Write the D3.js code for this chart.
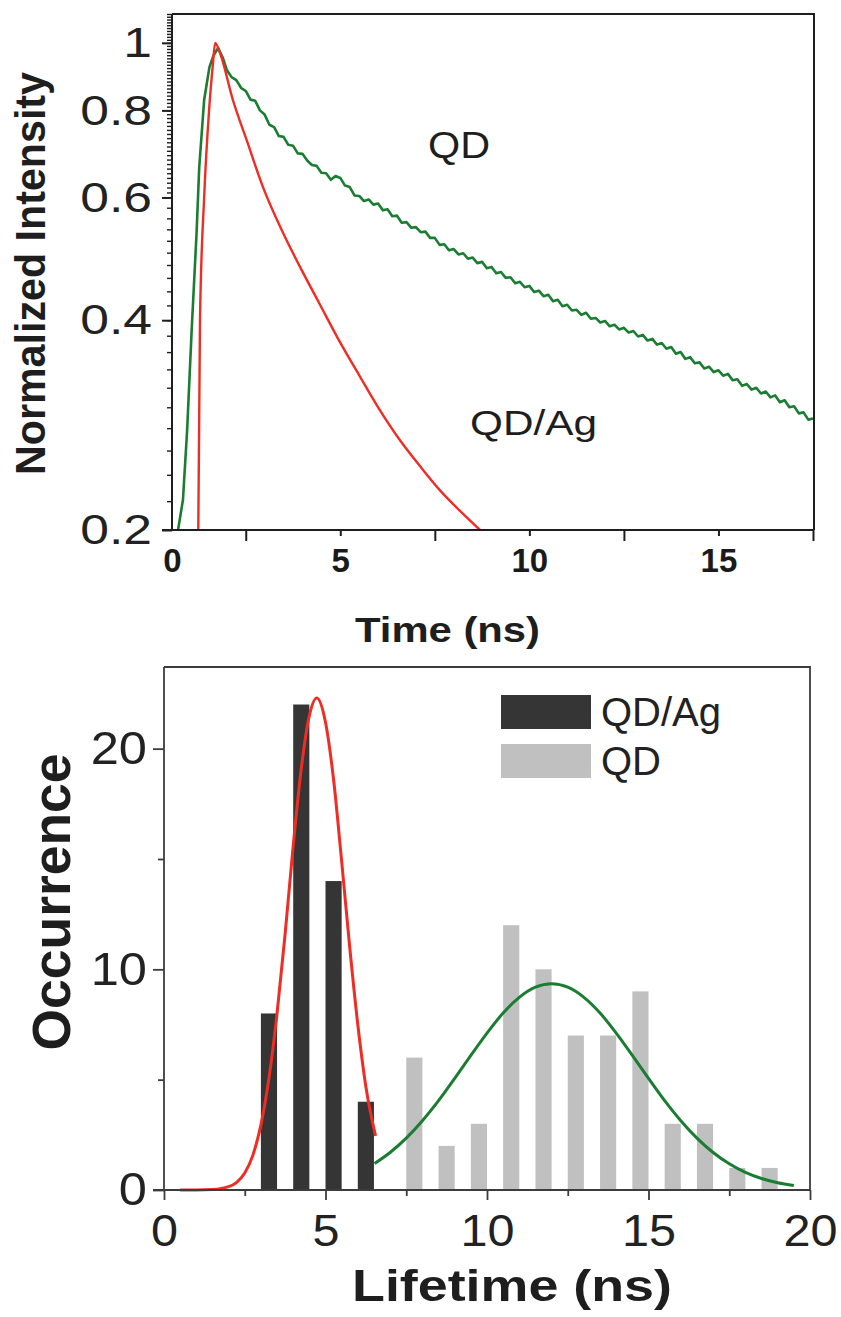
<!DOCTYPE html>
<html>
<head>
<meta charset="utf-8">
<script src="https://cdn.jsdelivr.net/npm/d3@7"></script>
<style>
  body { margin: 0; background: #fff; }
  svg { display: block; font-family: "Liberation Sans", Arial, sans-serif; }
</style>
</head>
<body>
<svg id="drawing_region"></svg>
<script>
// ---- top panel: PL decay, [time (ns), normalized intensity]
const decayQD = [
  [0.71,0.2],[0.84,0.221],[0.95,0.278],[1.07,0.387],[1.2,0.534],[1.27,0.663],[1.4,0.828],
  [1.54,0.923],[1.65,0.96],[1.77,0.983],[1.9,0.95],
  [2.0,0.914],[2.125,0.893],[2.25,0.884],[2.375,0.862],[2.5,0.853],[2.625,0.829],[2.75,0.826],
  [2.875,0.800],[3.0,0.789],[3.125,0.763],[3.25,0.757],[3.375,0.735],[3.5,0.733],[3.625,0.714],
  [3.75,0.712],[3.875,0.694],[4.0,0.693],[4.125,0.678],[4.25,0.668],[4.375,0.666],[4.5,0.651],
  [4.625,0.650],[4.75,0.636],[4.875,0.644],[5.0,0.640],[5.125,0.624],[5.25,0.621],[5.375,0.604],
  [5.5,0.603],[5.625,0.593],[5.75,0.596],[5.875,0.586],[6.0,0.588],[6.125,0.575],[6.25,0.577],
  [6.375,0.564],[6.5,0.565],[6.625,0.552],[6.75,0.553],[6.875,0.543],[7.0,0.544],[7.125,0.535],
  [7.25,0.536],[7.375,0.525],[7.5,0.525],[7.625,0.513],[7.75,0.514],[7.875,0.504],[8.0,0.506],
  [8.125,0.497],[8.25,0.499],[8.375,0.490],[8.5,0.492],[8.625,0.483],[8.75,0.485],[8.875,0.475],
  [9.0,0.477],[9.125,0.467],[9.25,0.469],[9.375,0.460],[9.5,0.461],[9.625,0.452],[9.75,0.454],
  [9.875,0.446],[10.0,0.448],[10.125,0.439],[10.25,0.441],[10.375,0.433],[10.5,0.435],
  [10.625,0.426],[10.75,0.428],[10.875,0.419],[11.0,0.421],[11.125,0.413],[11.25,0.414],
  [11.375,0.407],[11.5,0.410],[11.625,0.402],[11.75,0.403],[11.875,0.397],[12.0,0.399],
  [12.125,0.392],[12.25,0.394],[12.375,0.388],[12.5,0.390],[12.625,0.384],[12.75,0.386],
  [12.875,0.379],[13.0,0.381],[13.125,0.374],[13.25,0.376],[13.375,0.369],[13.5,0.371],
  [13.625,0.364],[13.75,0.366],[13.875,0.358],[14.0,0.360],[14.125,0.352],[14.25,0.354],
  [14.375,0.347],[14.5,0.348],[14.625,0.341],[14.75,0.343],[14.875,0.337],[15.0,0.339],
  [15.125,0.333],[15.25,0.335],[15.375,0.328],[15.5,0.329],[15.625,0.322],[15.75,0.324],
  [15.875,0.318],[16.0,0.320],[16.125,0.314],[16.25,0.316],[16.375,0.310],[16.5,0.312],
  [16.625,0.305],[16.75,0.307],[16.875,0.300],[17.0,0.301],[17.125,0.294],[17.25,0.295],
  [17.375,0.288],[17.5,0.289]
];
const decayQDAg = [
  [1.245,0.2],[1.29,0.4],[1.40,0.6],[1.53,0.8],[1.63,0.93],[1.69,1.0],[1.82,0.967],
  [2.16,0.828],[2.525,0.725],[2.956,0.621],[3.485,0.534],[3.935,0.477],[4.464,0.421],
  [4.992,0.372],[5.521,0.332],[6.05,0.297],[6.579,0.269],[7.108,0.247],[7.637,0.228],
  [8.166,0.213],[8.694,0.2]
];
const decayYTicks = [0.2, 0.4, 0.6, 0.8, 1];
const decayXLabelTicks = [0.55, 5, 10, 15];
const decayXLongTicks = [2.5, 7.5, 12.5, 17.5];

// ---- bottom panel: lifetime histogram
const qdAgBins = [3, 4, 5, 6];
const qdAgCounts = [8, 22, 14, 4];
const qdBins = [7, 8, 9, 10, 11, 12, 13, 14, 15, 16, 17, 18];
const qdCounts = [6, 2, 3, 12, 10, 7, 7, 9, 3, 3, 1, 1];
const fitQDAg = [
  [0.5,0],[1.0,0.0],[1.5,0.02],[2.0,0.15],[2.25,0.35],[2.5,0.77],[2.75,1.57],[3.0,2.95],
  [3.25,5.07],[3.5,8.0],[3.75,11.6],[4.0,15.6],[4.25,19.1],[4.5,21.5],[4.73,22.3],
  [5.0,21.2],[5.25,18.6],[5.5,14.9],[5.75,11.0],[6.0,7.5],[6.25,4.68],[6.55,2.45]
];
const fitQD = [
  [6.52,1.2],[7.0,1.70],[7.5,2.35],[8.0,3.14],[8.5,4.05],[9.0,5.06],[9.5,6.10],[10.0,7.11],
  [10.5,8.02],[11.0,8.73],[11.5,9.19],[12.0,9.35],[12.5,9.19],[13.0,8.73],[13.5,8.02],
  [14.0,7.11],[14.5,6.10],[15.0,5.06],[15.5,4.05],[16.0,3.14],[16.5,2.35],[17.0,1.70],
  [17.5,1.19],[18.0,0.80],[18.5,0.52],[19.0,0.33],[19.5,0.20]
];
const histXTicks = [0, 5, 10, 15, 20];
const histYTicks = [0, 10, 20];

const GREEN = '#1a7d32', RED = '#ee2d24', AXIS = '#1e1e1e';
const FONT = '"Liberation Sans", Arial, sans-serif';

// widen glyphs a little, the original lettering is broad
function stretch(sel, k) {
    sel.each(function() {
        const w = this.getComputedTextLength();
        d3.select(this).attr('textLength', w * k).attr('lengthAdjust', 'spacingAndGlyphs');
    });
}

const svg = d3.select('#drawing_region')
    .attr('width', 841)
    .attr('height', 1317);

svg.append('rect').attr('width', 841).attr('height', 1317).attr('fill', '#fff');

// ================= top panel =================
const xT = d3.scaleLinear().domain([0.55, 17.5]).range([172, 813]);
const yT = d3.scaleLog().domain([0.2, 1.1]).range([530, 14]);

svg.append('clipPath').attr('id', 'clipTop')
  .append('rect').attr('x', 172).attr('y', 14).attr('width', 642).attr('height', 516);

const lineT = d3.line().x(d => xT(d[0])).y(d => yT(d[1]));
const curvesT = svg.append('g').attr('clip-path', 'url(#clipTop)');
curvesT.append('path').datum(decayQD)
    .attr('d', lineT).attr('fill', 'none')
    .attr('stroke', GREEN).attr('stroke-width', 2.6).attr('stroke-linejoin', 'round');
curvesT.append('path').datum(decayQDAg)
    .attr('d', lineT.curve(d3.curveMonotoneX)).attr('fill', 'none')
    .attr('stroke', RED).attr('stroke-width', 2.4);

// frame
svg.append('path')
    .attr('d', `M172,14H814V530`)
    .attr('fill', 'none').attr('stroke', AXIS).attr('stroke-width', 2);

// y minor ticks
const minorY = d3.range(0.22, 0.6, 0.02).concat(d3.range(0.61, 1.1, 0.01));
svg.append('g').attr('transform', 'translate(172,0)')
    .call(d3.axisLeft(yT).tickValues(minorY).tickSize(5).tickFormat(''))
    .call(g => g.select('.domain').remove())
    .selectAll('line').attr('stroke', AXIS).attr('stroke-width', 1.4);

svg.append('g').attr('transform', 'translate(172,0)')
    .call(d3.axisLeft(yT).tickValues(decayYTicks).tickSize(10).tickPadding(10)
        .tickFormat(d => d === 1 ? '1' : d3.format('.1f')(d)))
    .call(g => g.select('.domain').attr('stroke', AXIS).attr('stroke-width', 2)
        .attr('d', 'M0,14V530'))
    .call(g => g.selectAll('line').attr('stroke', AXIS).attr('stroke-width', 2))
    .call(g => g.selectAll('text').attr('font-size', 43).attr('fill', '#222')
        .attr('font-family', FONT).call(stretch, 1.2));

// x axis
svg.append('g').attr('transform', 'translate(0,530)')
    .call(d3.axisBottom(xT).tickValues(decayXLongTicks).tickSize(11).tickFormat(''))
    .call(g => g.select('.domain').remove())
    .selectAll('line').attr('stroke', AXIS).attr('stroke-width', 2);

svg.append('g').attr('transform', 'translate(0,530)')
    .call(d3.axisBottom(xT).tickValues(decayXLabelTicks).tickSize(6).tickPadding(13)
        .tickFormat(d => d < 1 ? '0' : d))
    .call(g => g.select('.domain').attr('stroke', AXIS).attr('stroke-width', 2)
        .attr('d', 'M162,0H814'))
    .call(g => g.selectAll('line').attr('stroke', AXIS).attr('stroke-width', 2)
        .filter(d => d < 1).remove())
    .call(g => g.selectAll('text').attr('font-size', 33).attr('font-weight', 'bold')
        .attr('fill', '#1a1a1a').attr('font-family', FONT));

// titles & labels
svg.append('text')
    .attr('transform', 'translate(45,273.5) rotate(-90)')
    .attr('text-anchor', 'middle').attr('font-size', 42).attr('font-weight', 'bold')
    .attr('fill', '#1e1e1e')
    .attr('textLength', 403).attr('lengthAdjust', 'spacingAndGlyphs')
    .text('Normalized Intensity');

svg.append('text')
    .attr('x', 447.5).attr('y', 642)
    .attr('text-anchor', 'middle').attr('font-size', 35).attr('font-weight', 'bold')
    .attr('fill', '#1e1e1e')
    .attr('textLength', 185).attr('lengthAdjust', 'spacingAndGlyphs')
    .text('Time (ns)');

svg.append('text')
    .attr('x', 428).attr('y', 158).attr('font-size', 36).attr('fill', '#1e1e1e')
    .attr('textLength', 62).attr('lengthAdjust', 'spacingAndGlyphs')
    .text('QD');

svg.append('text')
    .attr('x', 470).attr('y', 435).attr('font-size', 35).attr('fill', '#1e1e1e')
    .attr('textLength', 127).attr('lengthAdjust', 'spacingAndGlyphs')
    .text('QD/Ag');

// ================= bottom panel =================
const xB = d3.scaleLinear().domain([0, 20]).range([164, 810]);
const yB = d3.scaleLinear().domain([0, 23.7]).range([1190, 667]);
const HIST_AXIS = '#3c3c3c';

const bars = svg.append('g');
bars.selectAll('.qdag')
    .data(qdAgBins.map((b, i) => ({ bin: b, count: qdAgCounts[i] })))
    .enter().append('rect')
    .attr('x', d => xB(d.bin))
    .attr('width', d => xB(d.bin + 0.5) - xB(d.bin))
    .attr('y', d => yB(d.count))
    .attr('height', d => yB(0) - yB(d.count))
    .attr('fill', '#353535');
bars.selectAll('.qd')
    .data(qdBins.map((b, i) => ({ bin: b, count: qdCounts[i] })))
    .enter().append('rect')
    .attr('x', d => xB(d.bin + 0.5))
    .attr('width', d => xB(d.bin + 1) - xB(d.bin + 0.5))
    .attr('y', d => yB(d.count))
    .attr('height', d => yB(0) - yB(d.count))
    .attr('fill', '#c0c0c0');

const lineB = d3.line().x(d => xB(d[0])).y(d => yB(d[1])).curve(d3.curveMonotoneX);
svg.append('path').datum(fitQD).attr('d', lineB)
    .attr('fill', 'none').attr('stroke', GREEN).attr('stroke-width', 3);
svg.append('path').datum(fitQDAg).attr('d', lineB)
    .attr('fill', 'none').attr('stroke', RED).attr('stroke-width', 3);

// frame
svg.append('path')
    .attr('d', 'M164,667H810V1190')
    .attr('fill', 'none').attr('stroke', HIST_AXIS).attr('stroke-width', 1.8);

// axes
svg.append('g').attr('transform', 'translate(0,1190)')
    .call(d3.axisBottom(xB).tickValues(d3.range(2.5, 20, 5)).tickSize(6).tickFormat(''))
    .call(g => g.select('.domain').remove())
    .selectAll('line').attr('stroke', HIST_AXIS).attr('stroke-width', 1.8);
svg.append('g').attr('transform', 'translate(0,1190)')
    .call(d3.axisBottom(xB).tickValues(histXTicks).tickSize(10).tickPadding(14))
    .call(g => g.select('.domain').attr('stroke', HIST_AXIS).attr('stroke-width', 1.8)
        .attr('d', 'M153,0H810'))
    .call(g => g.selectAll('line').attr('stroke', HIST_AXIS).attr('stroke-width', 1.8))
    .call(g => g.selectAll('text').attr('font-size', 45).attr('fill', '#222')
        .attr('font-family', FONT).call(stretch, 1.08));

svg.append('g').attr('transform', 'translate(164,0)')
    .call(d3.axisLeft(yB).tickValues([5, 15]).tickSize(6).tickFormat(''))
    .call(g => g.select('.domain').remove())
    .selectAll('line').attr('stroke', HIST_AXIS).attr('stroke-width', 1.8);
svg.append('g').attr('transform', 'translate(164,0)')
    .call(d3.axisLeft(yB).tickValues(histYTicks).tickSize(11).tickPadding(6))
    .call(g => g.select('.domain').attr('stroke', HIST_AXIS).attr('stroke-width', 1.8)
        .attr('d', 'M0,667V1190'))
    .call(g => g.selectAll('line').attr('stroke', HIST_AXIS).attr('stroke-width', 1.8))
    .call(g => g.selectAll('text').attr('font-size', 46).attr('fill', '#222')
        .attr('font-family', FONT).call(stretch, 1.1));

svg.append('text')
    .attr('transform', 'translate(70,902) rotate(-90)')
    .attr('text-anchor', 'middle').attr('font-size', 54).attr('font-weight', 'bold')
    .attr('fill', '#1e1e1e')
    .attr('textLength', 297).attr('lengthAdjust', 'spacingAndGlyphs')
    .text('Occurrence');

svg.append('text')
    .attr('x', 512).attr('y', 1301)
    .attr('text-anchor', 'middle').attr('font-size', 45).attr('font-weight', 'bold')
    .attr('fill', '#1e1e1e')
    .attr('textLength', 320).attr('lengthAdjust', 'spacingAndGlyphs')
    .text('Lifetime (ns)');

// legend
const legend = svg.append('g');
[{ label: 'QD/Ag', fill: '#353535', y: 695 }, { label: 'QD', fill: '#c0c0c0', y: 744 }]
  .forEach(item => {
    legend.append('rect').attr('x', 501).attr('y', item.y)
        .attr('width', 90).attr('height', 34).attr('fill', item.fill);
    legend.append('text').attr('x', 601).attr('y', item.y + 31)
        .attr('font-size', 40).attr('fill', '#222').text(item.label);
  });
</script>
</body>
</html>
